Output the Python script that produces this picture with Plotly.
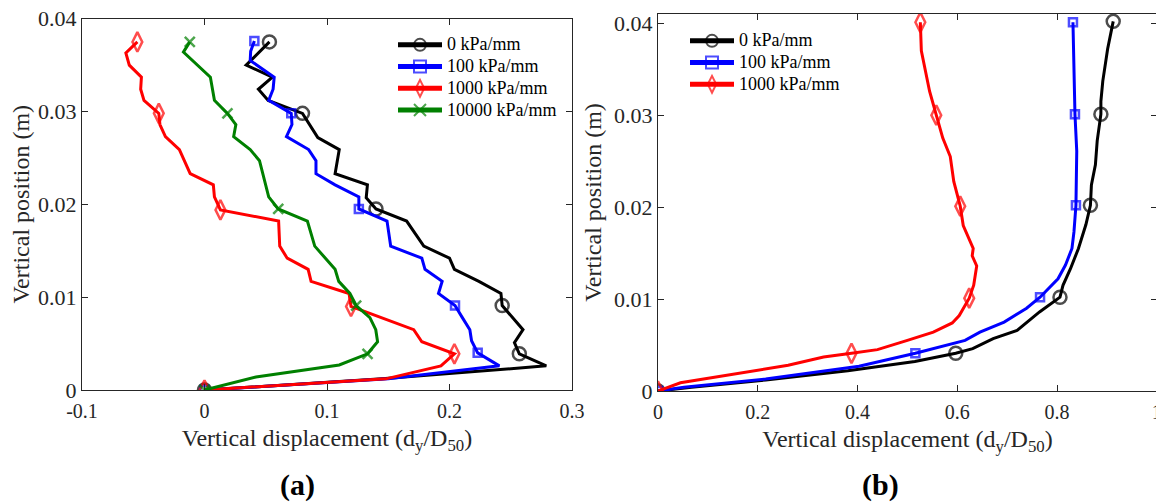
import plotly.graph_objects as go

# ---------------- Panel (a) data ----------------
a_names = ["0 kPa/mm", "100 kPa/mm", "1000 kPa/mm", "10000 kPa/mm"]

a0_x = [0, 0.145, 0.279, 0.257, 0.253, 0.260, 0.243, 0.242, 0.224, 0.204, 0.200, 0.179, 0.165,
        0.140, 0.132, 0.133, 0.1066, 0.110, 0.0925, 0.080, 0.052, 0.044, 0.0554, 0.034, 0.053]
a0_y = [0, 0.0012, 0.0026, 0.0039, 0.0051, 0.0065, 0.0091, 0.0104, 0.0117, 0.0130, 0.0142, 0.0155, 0.0182,
        0.0195, 0.0207, 0.0221, 0.0233, 0.0259, 0.0272, 0.0298, 0.0312, 0.0324, 0.0337, 0.0350, 0.0375]
a0_mk = [1, 0, 0, 1, 0, 0, 1, 0, 0, 0, 0, 0, 0, 1, 0, 0, 0, 0, 0, 1, 0, 0, 0, 0, 1]

a1_x = [0, 0.150, 0.2407, 0.223, 0.218, 0.2166, 0.2105, 0.2045, 0.191, 0.194, 0.180, 0.1774, 0.152, 0.149,
        0.126, 0.126, 0.1066, 0.091, 0.091, 0.085, 0.0669, 0.0714, 0.0708, 0.0524, 0.056, 0.0569, 0.0373,
        0.0377, 0.0407]
a1_y = [0, 0.0012, 0.0026, 0.0040, 0.0053, 0.0065, 0.0078, 0.0091, 0.0104, 0.0117, 0.0130, 0.0142, 0.0155,
        0.0182, 0.0195, 0.0208, 0.0221, 0.0233, 0.0247, 0.0259, 0.0273, 0.0286, 0.0298, 0.0312, 0.0324,
        0.0337, 0.0355, 0.0365, 0.0376]
a1_mk = [1, 0, 0, 1, 0, 0, 0, 1, 0, 0, 0, 0, 0, 0, 1, 0, 0, 0, 0, 0, 0, 0, 1, 0, 0, 0, 0, 0, 1]

a2_x = [0, 0.148, 0.193, 0.204, 0.1774, 0.1708, 0.1196, 0.118, 0.087, 0.0846, 0.0675, 0.0614, 0.0605,
        0.013, 0.0081, 0.0072, -0.0117, -0.0205, -0.0319, -0.0364, -0.0373, -0.0494, -0.0521, -0.0515,
        -0.0614, -0.0642, -0.0548]
a2_y = [0, 0.0012, 0.0026, 0.0039, 0.0052, 0.0065, 0.0090, 0.0104, 0.0117, 0.0130, 0.0142, 0.0155, 0.0182,
        0.0194, 0.0208, 0.0221, 0.0233, 0.0259, 0.0273, 0.0286, 0.0298, 0.0312, 0.0324, 0.0337,
        0.0350, 0.0363, 0.0375]
a2_mk = [1, 0, 0, 1, 0, 0, 1, 0, 0, 0, 0, 0, 0, 1, 0, 0, 0, 0, 0, 0, 1, 0, 0, 0, 0, 0, 1]

a3_x = [0, 0.042, 0.110, 0.1331, 0.1413, 0.1398, 0.135, 0.1238, 0.1187, 0.1096, 0.1066, 0.090, 0.084,
        0.0602, 0.0524, 0.0494, 0.0449, 0.0373, 0.0238, 0.0256, 0.0187, 0.0081, 0.0048, -0.0172, -0.012]
a3_y = [0, 0.0014, 0.0027, 0.0039, 0.0052, 0.0065, 0.0078, 0.0091, 0.0104, 0.0117, 0.0130, 0.0155, 0.0182,
        0.0195, 0.0208, 0.0225, 0.0247, 0.0259, 0.0273, 0.0286, 0.0298, 0.0312, 0.0337, 0.0364, 0.0375]
a3_mk = [1, 0, 0, 1, 0, 0, 0, 1, 0, 0, 0, 0, 0, 1, 0, 0, 0, 0, 0, 0, 1, 0, 0, 0, 1]

# ---------------- Panel (b) data ----------------
b_names = ["0 kPa/mm", "100 kPa/mm", "1000 kPa/mm"]

b0_x = [0, 0.067, 0.216, 0.3806, 0.515, 0.597, 0.631, 0.672, 0.720, 0.765, 0.806, 0.812, 0.827, 0.843,
        0.858, 0.867, 0.869, 0.877, 0.8806, 0.888, 0.888, 0.8918, 0.9015, 0.9127]
b0_y = [0, 0.0004, 0.0012, 0.0022, 0.0032, 0.0041, 0.0046, 0.0057, 0.0066, 0.0086, 0.0102, 0.0115, 0.0133,
        0.0155, 0.0181, 0.0202, 0.0224, 0.0246, 0.0272, 0.0301, 0.0315, 0.0337, 0.0372, 0.0402]
b0_mk = [1, 0, 0, 0, 0, 1, 0, 0, 0, 0, 1, 0, 0, 0, 0, 1, 0, 0, 0, 1, 0, 0, 0, 1]

b1_x = [0, 0.052, 0.216, 0.403, 0.516, 0.6157, 0.6455, 0.694, 0.739, 0.766, 0.802, 0.817, 0.830, 0.834,
        0.838, 0.8396, 0.836, 0.834, 0.832]
b1_y = [0, 0.0004, 0.0013, 0.0027, 0.0041, 0.0055, 0.0064, 0.0075, 0.0090, 0.0102, 0.0122, 0.0137, 0.0155,
        0.0173, 0.0202, 0.0261, 0.0301, 0.0352, 0.0401]
b1_mk = [1, 0, 0, 0, 1, 0, 0, 0, 0, 1, 0, 0, 0, 0, 1, 0, 1, 0, 1]

b2_x = [0, 0.045, 0.261, 0.332, 0.388, 0.440, 0.500, 0.552, 0.590, 0.604, 0.624, 0.633, 0.639, 0.630,
        0.632, 0.620, 0.612, 0.606, 0.593, 0.586, 0.571, 0.558, 0.5445, 0.528, 0.526]
b2_y = [0, 0.0009, 0.0028, 0.0037, 0.0041, 0.0045, 0.0055, 0.0064, 0.0074, 0.0082, 0.0101, 0.0115, 0.0136,
        0.0147, 0.0155, 0.0170, 0.0180, 0.0201, 0.0228, 0.0255, 0.0275, 0.0300, 0.0326, 0.0370, 0.0401]
b2_mk = [1, 0, 0, 0, 1, 0, 0, 0, 0, 0, 1, 0, 0, 0, 0, 0, 0, 1, 0, 0, 0, 1, 0, 0, 1]

a_xticks = [-0.1, 0, 0.1, 0.2, 0.3]
a_xticktext = ["-0.1", "0", "0.1", "0.2", "0.3"]
b_xticks = [0, 0.2, 0.4, 0.6, 0.8, 1]
b_xticktext = ["0", "0.2", "0.4", "0.6", "0.8", "1"]
yticks = [0, 0.01, 0.02, 0.03, 0.04]
yticktext = ["0", "0.01", "0.02", "0.03", "0.04"]

# ---------------- styles ----------------
colors = ["#000000", "#0000ff", "#ff0000", "#008000"]
symbols = ["circle-open", "square-open", "diamond-tall-open", "x-thin"]
msizes = [13, 8, 14, 10]
FONT = "Liberation Serif, Times New Roman, serif"

# page offset (browser body margin) and figure size
OX, OY = 8, 8
W, H = 1164 - OX, 503 - OY


def px(xp):
    return (xp - OX) / W


def py(yp):
    return 1 - (yp - OY) / H


fig = go.Figure()


def add_series(x, y, mk, i, name, xa, ya, legend):
    fig.add_trace(go.Scatter(
        x=x, y=y, name='<span style="font-size:18px">' + name + '</span>',
        mode="lines+markers", xaxis=xa, yaxis=ya, legend=legend,
        line=dict(color=colors[i], width=3),
        marker=dict(symbol=symbols[i], size=[msizes[i] if m else 0 for m in mk],
                    color=colors[i], line=dict(color=colors[i], width=2.5)),
    ))


a_series = [(a0_x, a0_y, a0_mk), (a1_x, a1_y, a1_mk), (a2_x, a2_y, a2_mk), (a3_x, a3_y, a3_mk)]
for i, (x, y, mk) in enumerate(a_series):
    add_series(x, y, mk, i, a_names[i], "x", "y", "legend")

b_series = [(b0_x, b0_y, b0_mk), (b1_x, b1_y, b1_mk), (b2_x, b2_y, b2_mk)]
for i, (x, y, mk) in enumerate(b_series):
    add_series(x, y, mk, i, b_names[i], "x2", "y2", "legend2")

axis_common = dict(
    showgrid=False, zeroline=False, showline=True, linecolor="#262626", linewidth=1,
    mirror="ticks", ticks="inside", ticklen=6, tickwidth=1, tickcolor="#262626",
    automargin=False, ticklabeloverflow="allow",
)
xtickfont = dict(family=FONT, size=20, color="#262626")
ytickfont = dict(family=FONT, size=22, color="#262626")
title_font = dict(family=FONT, size=24, color="#262626")
xtitle = "Vertical displacement (d<sub>y</sub>/D<sub>50</sub>)"
ytitle = "Vertical position (m)"
legend_common = dict(xanchor="left", yanchor="top", bgcolor="rgba(255,255,255,0)", borderwidth=0,
                     itemsizing="constant", itemwidth=44, tracegroupgap=0,
                     font=dict(family=FONT, size=14.4, color="#000000"))

fig.update_layout(
    width=W, height=H,
    margin=dict(l=0, r=0, t=0, b=0),
    paper_bgcolor="white", plot_bgcolor="white",
    font=dict(family=FONT, color="#000000"),
    xaxis=dict(domain=[px(82), px(572)], range=[-0.1, 0.3], tickvals=a_xticks, ticktext=a_xticktext,
               anchor="y", tickfont=xtickfont, ticklabelstandoff=3,
               title=dict(text=xtitle, font=title_font, standoff=8),
               **axis_common),
    yaxis=dict(domain=[py(390), py(18.5)], range=[0, 0.04002], tickvals=yticks, ticktext=yticktext,
               anchor="x", tickfont=ytickfont,
               title=dict(text=ytitle, font=title_font, standoff=5),
               **axis_common),
    xaxis2=dict(domain=[px(658), px(1157)], range=[0, 1.0005], tickvals=b_xticks, ticktext=b_xticktext,
                anchor="y2", tickfont=xtickfont, ticklabelstandoff=3,
                title=dict(text=xtitle, font=title_font, standoff=8),
                **axis_common),
    yaxis2=dict(domain=[py(391), py(14)], range=[0, 0.041], tickvals=yticks, ticktext=yticktext,
                anchor="x2", tickfont=ytickfont,
                title=dict(text=ytitle, font=title_font, standoff=5),
                **axis_common),
    legend=dict(x=px(393), y=py(29), **legend_common),
    legend2=dict(x=px(685), y=py(25), **legend_common),
    annotations=[
        dict(text="<b>(a)</b>", x=px(297), y=py(485), xref="paper", yref="paper",
             xanchor="center", yanchor="middle",
             showarrow=False, font=dict(family=FONT, size=30, color="#000000")),
        dict(text="<b>(b)</b>", x=px(880), y=py(485), xref="paper", yref="paper",
             xanchor="center", yanchor="middle",
             showarrow=False, font=dict(family=FONT, size=30, color="#000000")),
    ],
)

fig.write_html("out.html")
